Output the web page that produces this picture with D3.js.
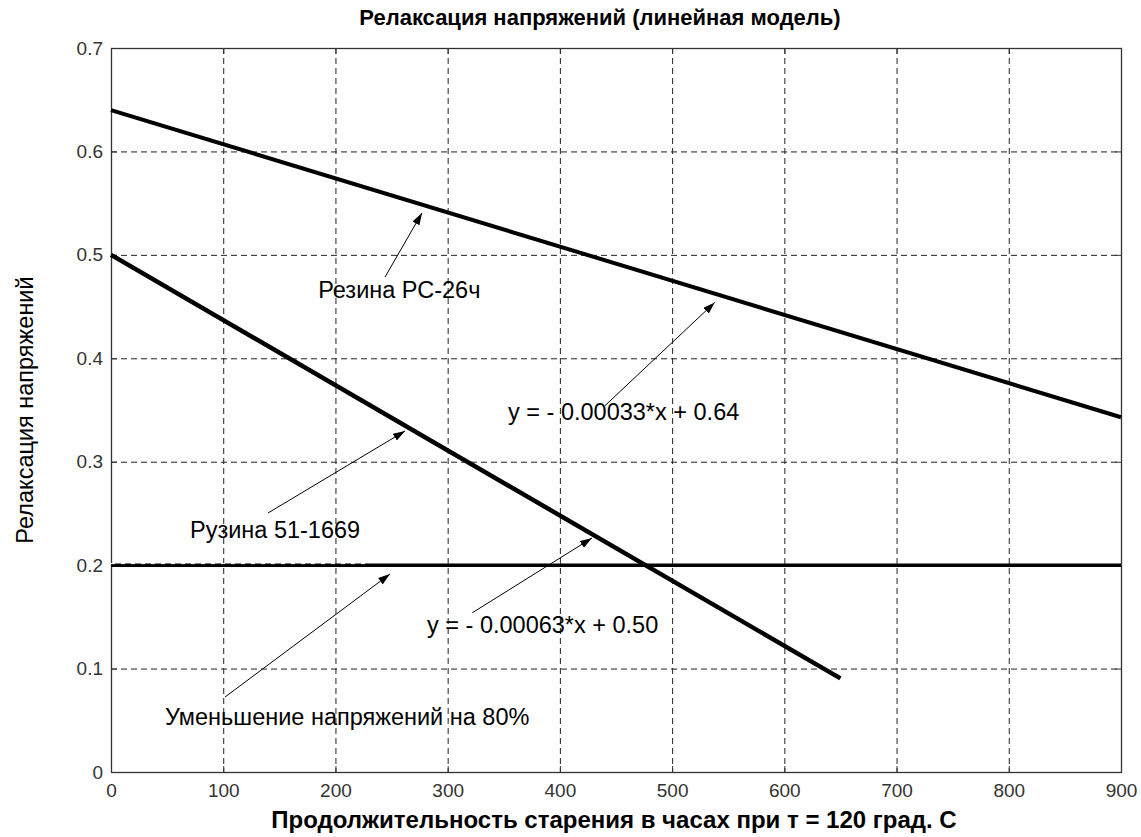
<!DOCTYPE html>
<html><head><meta charset="utf-8">
<script src="https://cdn.jsdelivr.net/npm/d3@7"></script>
<style>body{margin:0;background:#fff;} svg{display:block;}</style>
</head><body>
<svg id="c" width="1141" height="837"></svg>
<script>
// ---- data ----
const xTicks = [0,100,200,300,400,500,600,700,800,900];
const yTicks = [0,0.1,0.2,0.3,0.4,0.5,0.6,0.7];
const yTickLabels = ["0","0.1","0.2","0.3","0.4","0.5","0.6","0.7"];
const hoursRC = [0, 900];
const relaxRC = [0.64, 0.343];          // Резина РС-26ч
const hours51 = [0, 650];
const relax51 = [0.50, 0.0905];         // Рузина 51-1669
const hoursLimit = [0, 900];
const relaxLimit = [0.2, 0.2];          // 80% reduction level
const hoursLimitDashedPart = [0, 228];  // left part of the level line that looks dashed
const labelTexts = ["Резина РС-26ч","y = - 0.00033*x + 0.64","Рузина 51-1669","y = - 0.00063*x + 0.50","Уменьшение напряжений на 80%"];
const labelX = [184.6, 353.8, 70.4, 281.6, 48.1];
const labelY = [0.4583, 0.3403, 0.2262, 0.1344, 0.0454];
const arrowFromX = [244.2, 440.0, 139.9, 322.0, 101.6];
const arrowFromY = [0.4786, 0.3540, 0.2504, 0.1540, 0.0725];
const arrowToX = [277.1, 538.0, 262.0, 428.6, 248.6];
const arrowToY = [0.5405, 0.4540, 0.3297, 0.2262, 0.1914];
const titleText = "Релаксация напряжений (линейная модель)";
const xLabelText = "Продолжительность старения в часах при т = 120 град. С";
const yLabelText = "Релаксация напряжений";

// ---- layout ----
const L = 111, R = 1121, T = 48, B = 772;
const svg = d3.select("#c");
const x = d3.scaleLinear().domain([0,900]).range([L,R]);
const y = d3.scaleLinear().domain([0,0.7]).range([B,T]);
const font = "'Liberation Sans', Arial, sans-serif";

// grid
const g = svg.append("g");
g.selectAll("line.vg").data(xTicks.slice(1,-1)).join("line")
  .attr("x1",d=>x(d)+0.5).attr("x2",d=>x(d)+0.5).attr("y1",T).attr("y2",B)
  .attr("stroke","#222").attr("stroke-width",1).attr("stroke-dasharray","6,4");
g.selectAll("line.hg").data(yTicks.slice(1,-1)).join("line")
  .attr("y1",d=>y(d)+0.5).attr("y2",d=>y(d)+0.5).attr("x1",L).attr("x2",R)
  .attr("stroke","#222").attr("stroke-width",1).attr("stroke-dasharray","6,4");

// axes
const xAxis = d3.axisBottom(x).tickValues(xTicks).tickSizeInner(-6).tickSizeOuter(0).tickPadding(12);
const yAxis = d3.axisLeft(y).tickValues(yTicks).tickFormat((d,i)=>yTickLabels[i]).tickSizeInner(-6).tickSizeOuter(0).tickPadding(8);
const gx = svg.append("g").attr("transform",`translate(0,${B})`).call(xAxis);
const gy = svg.append("g").attr("transform",`translate(${L},0)`).call(yAxis);
[gx,gy].forEach(a=>{
  a.select(".domain").remove();
  a.selectAll("line").attr("stroke","#333");
  a.selectAll("text").attr("font-family",font).attr("font-size",19).attr("fill","#333");
});
svg.append("g").attr("transform",`translate(0,${T})`).call(d3.axisTop(x).tickValues(xTicks).tickSizeInner(-6).tickSizeOuter(0).tickFormat(""))
  .call(a=>{a.select(".domain").remove();a.selectAll("line").attr("stroke","#333");});
svg.append("g").attr("transform",`translate(${R},0)`).call(d3.axisRight(y).tickValues(yTicks).tickSizeInner(-6).tickSizeOuter(0).tickFormat(""))
  .call(a=>{a.select(".domain").remove();a.selectAll("line").attr("stroke","#333");});
svg.append("rect").attr("x",L+0.5).attr("y",T+0.5).attr("width",R-L).attr("height",B-T)
  .attr("fill","none").attr("stroke","#333").attr("stroke-width",1.3);

// data lines
const line = d3.line().x(d=>x(d[0])).y(d=>y(d[1]));
svg.append("path").datum(hoursLimit.map((h,i)=>[h,relaxLimit[i]])).attr("d",line)
  .attr("fill","none").attr("stroke","#000").attr("stroke-width",3.5);
svg.append("path").datum(hoursLimitDashedPart.map((h,i)=>[h,relaxLimit[i]])).attr("d",line)
  .attr("transform","translate(0,-1.5)")
  .attr("fill","none").attr("stroke","#fff").attr("stroke-width",1).attr("stroke-dasharray","4,6");
svg.append("path").datum(hoursRC.map((h,i)=>[h,relaxRC[i]])).attr("d",line)
  .attr("fill","none").attr("stroke","#000").attr("stroke-width",4);
svg.append("path").datum(hours51.map((h,i)=>[h,relax51[i]])).attr("d",line)
  .attr("fill","none").attr("stroke","#000").attr("stroke-width",4.5);

// arrows
svg.append("defs").append("marker").attr("id","ah").attr("viewBox","0 0 12 8")
  .attr("refX",12).attr("refY",4).attr("markerWidth",12).attr("markerHeight",8)
  .attr("markerUnits","userSpaceOnUse").attr("orient","auto")
  .append("path").attr("d","M0,0 L12,4 L0,8 Z").attr("fill","#000");
svg.selectAll("line.arrow").data(arrowFromX).join("line")
  .attr("x1",(d,i)=>x(d)).attr("y1",(d,i)=>y(arrowFromY[i]))
  .attr("x2",(d,i)=>x(arrowToX[i])).attr("y2",(d,i)=>y(arrowToY[i]))
  .attr("stroke","#000").attr("stroke-width",1).attr("marker-end","url(#ah)");

// annotation texts
svg.selectAll("text.ann").data(labelTexts).join("text")
  .attr("x",(d,i)=>x(labelX[i])).attr("y",(d,i)=>y(labelY[i]))
  .attr("font-family",font).attr("font-size",23.5).attr("fill","#000").text(d=>d);

// titles
svg.append("text").attr("x",600).attr("y",25).attr("text-anchor","middle")
  .attr("font-family",font).attr("font-size",22).attr("font-weight","bold").text(titleText);
svg.append("text").attr("x",614).attr("y",828).attr("text-anchor","middle")
  .attr("font-family",font).attr("font-size",24).attr("font-weight","bold").text(xLabelText);
svg.append("text").attr("transform",`translate(33,${(T+B)/2}) rotate(-90)`).attr("text-anchor","middle")
  .attr("font-family",font).attr("font-size",23.5).text(yLabelText);
</script>
</body></html>
